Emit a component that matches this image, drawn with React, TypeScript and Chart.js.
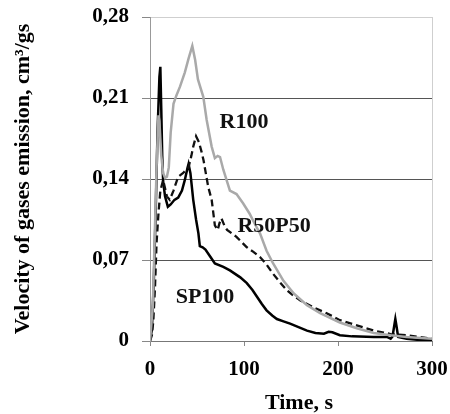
import React, { useEffect, useRef } from "react";
import { Chart, registerables } from "chart.js";

Chart.register(...registerables);

const xTicks = [0, 100, 200, 300];
const yTicks = [0, 0.07, 0.14, 0.21, 0.28];
const xTitle = "Time, s";

const sp100: [number, number][] = [
  [0, 0], [2, 0.01], [4, 0.05], [6, 0.11], [8, 0.18], [10, 0.228], [11, 0.237], [12, 0.2], [13, 0.16],
  [14, 0.138], [16, 0.125], [19, 0.116], [22, 0.118], [26, 0.122], [30, 0.124], [34, 0.13], [37, 0.139],
  [40, 0.15], [41, 0.153], [43, 0.145], [46, 0.122], [49, 0.105], [51.5, 0.093], [53, 0.082], [56, 0.081],
  [59, 0.079], [64, 0.073], [69, 0.067], [78, 0.064], [85, 0.061], [96, 0.055], [103, 0.05], [109, 0.044],
  [114, 0.038], [119, 0.032], [124, 0.0265], [130, 0.022], [135, 0.019], [142, 0.017], [149, 0.015],
  [158, 0.012], [167, 0.009], [176, 0.007], [185, 0.0063], [190, 0.008], [194, 0.0075], [202, 0.005],
  [215, 0.004], [238, 0.0035], [252, 0.0035], [256, 0.002], [258, 0.004], [260, 0.014], [261, 0.019],
  [262, 0.014], [264, 0.0035], [273, 0.002], [285, 0.001], [300, 0.0006],
];

const r100: [number, number][] = [
  [0, 0], [3, 0.03], [5, 0.09], [7, 0.15], [9, 0.195], [10, 0.19], [12, 0.16], [14, 0.145], [16, 0.141],
  [18, 0.142], [20, 0.15], [22, 0.18], [25, 0.205], [28, 0.212], [32, 0.22], [37, 0.232], [41, 0.244],
  [45, 0.255], [48, 0.243], [51, 0.226], [56.7, 0.211], [60.3, 0.191], [65.6, 0.168], [69, 0.158],
  [72, 0.16], [74.5, 0.159], [78, 0.148], [85, 0.13], [92, 0.127], [99, 0.119], [106, 0.11], [111, 0.102],
  [117, 0.093], [124, 0.078], [131, 0.067], [142, 0.052], [153, 0.041], [167, 0.031], [181, 0.024],
  [202, 0.016], [220, 0.011], [238, 0.007], [256, 0.005], [273, 0.0035], [300, 0.002],
];

const r50p50: [number, number][] = [
  [0, 0], [2, 0.005], [3.5, 0.017], [5.3, 0.046], [7, 0.085], [9, 0.11], [11, 0.13], [14, 0.139],
  [16, 0.132], [18, 0.125], [21, 0.122], [25, 0.13], [30, 0.142], [35, 0.145], [41, 0.15], [44, 0.16],
  [46, 0.168], [49, 0.177], [52, 0.172], [55, 0.163], [57, 0.156], [60, 0.142], [62, 0.133], [65.6, 0.122],
  [69, 0.1], [72, 0.096], [74, 0.102], [76, 0.106], [79, 0.1], [82, 0.096], [92, 0.09], [103, 0.081],
  [110, 0.077], [117, 0.0726], [124, 0.066], [131, 0.058], [138, 0.051], [145.5, 0.044], [153, 0.039],
  [160, 0.035], [174, 0.029], [188, 0.024], [202, 0.018], [220, 0.0135], [238, 0.009], [256, 0.006],
  [273, 0.005], [300, 0.002],
];

const seriesNames = ["R100", "R50P50", "SP100"];
const labelAnchorsX = [100, 132, 58.5];
const labelAnchorsY = [0.189, 0.0988, 0.0376];

const FONT = "'Liberation Serif', 'Times New Roman', serif";

const toPts = (a: [number, number][]) => a.map(([x, y]) => ({ x, y }));

const textPlugin = {
  id: "textPlugin",
  afterDraw(chart: any) {
    const { ctx, scales, chartArea } = chart;
    ctx.save();
    ctx.font = `bold 22px ${FONT}`;
    ctx.fillStyle = "#111";
    ctx.textAlign = "center";
    ctx.textBaseline = "middle";
    seriesNames.forEach((n, i) => {
      ctx.fillText(n, scales.x.getPixelForValue(labelAnchorsX[i]), scales.y.getPixelForValue(labelAnchorsY[i]));
    });
    ctx.fillStyle = "#000";
    ctx.fillText(xTitle, (chartArea.left + chartArea.right) / 2 + 8, chart.height - 11);
    ctx.restore();
  },
};

export default function App() {
  const ref = useRef<HTMLCanvasElement>(null);
  useEffect(() => {
    if (!ref.current) return;
    const chart = new Chart(ref.current, {
      type: "line",
      data: {
        datasets: [
          { label: "R100", data: toPts(r100), borderColor: "#a9a9a9", borderWidth: 2.5, pointRadius: 0, tension: 0 },
          { label: "R50P50", data: toPts(r50p50), borderColor: "#111", borderWidth: 2.3, borderDash: [7, 4], pointRadius: 0, tension: 0 },
          { label: "SP100", data: toPts(sp100), borderColor: "#000", borderWidth: 2.5, pointRadius: 0, tension: 0 },
        ],
      },
      options: {
        animation: false,
        responsive: false,
        layout: { padding: { top: 17, right: 18, left: 0, bottom: 0 } },
        plugins: { legend: { display: false }, tooltip: { enabled: false } },
        scales: {
          x: {
            type: "linear",
            min: 0,
            max: 300,
            afterBuildTicks: (s: any) => { s.ticks = xTicks.map((v) => ({ value: v })); },
            afterFit: (s: any) => {
              s.height = 73;
              s.paddingLeft = 0;
              s.paddingRight = 0;
            },
            ticks: { font: { family: FONT, size: 21, weight: "bold" }, color: "#000", padding: 11, maxRotation: 0 },
            grid: {
              color: (c: any) => (c.tick && c.tick.value === 300 ? "#cfcfcf" : "rgba(0,0,0,0)"),
              tickColor: "#888",
              tickLength: 5,
              lineWidth: 1,
            },
            border: { color: "#777", width: 1 },
            title: { display: false },
          },
          y: {
            type: "linear",
            min: 0,
            max: 0.28,
            afterBuildTicks: (s: any) => { s.ticks = yTicks.map((v) => ({ value: v })); },
            afterFit: (s: any) => {
              s.width = 150;
              s.paddingTop = 0;
              s.paddingBottom = 0;
            },
            ticks: {
              font: { family: FONT, size: 21, weight: "bold" },
              color: "#000",
              padding: 13,
              callback: (v: any) => (v === 0 ? "0" : Number(v).toFixed(2).replace(".", ",")),
            },
            grid: {
              color: (c: any) => (c.tick && c.tick.value === 0.28 ? "#cfcfcf" : "#555"),
              tickColor: "#888",
              tickLength: 8,
              lineWidth: 1,
            },
            border: { color: "#999", width: 1 },
            title: {
              display: true,
              text: "Velocity of gases emission, cm³/gs",
              font: { family: FONT, size: 22, weight: "bold" },
              color: "#000",
              padding: { top: 10, bottom: 0 },
            },
          },
        },
      },
      plugins: [textPlugin],
    } as any);
    return () => chart.destroy();
  }, []);
  return (
    <div style={{ position: "fixed", left: 0, top: 0, width: 450, height: 414, background: "#fff" }}>
      <canvas ref={ref} width={450} height={414} />
    </div>
  );
}
